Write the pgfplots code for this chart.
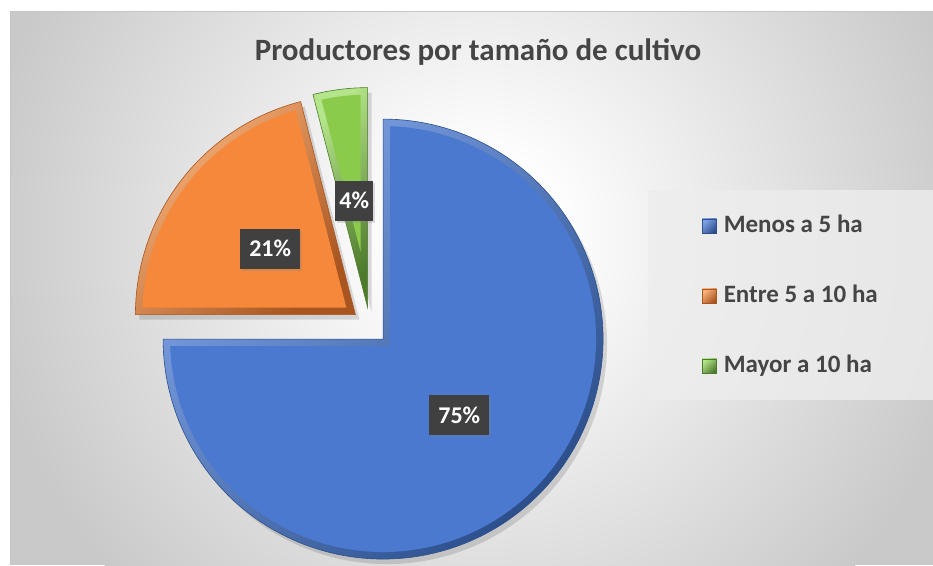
\documentclass[border=0pt]{standalone}
\usepackage{pgfplots}
\pgfplotsset{compat=1.18}
\usepackage{pgfplotstable}
\usetikzlibrary{shadows}
\usepackage{fontspec}
\setmainfont{Carlito}

\definecolor{bgout}{HTML}{C9C9C9}
\definecolor{sliceA}{HTML}{4A79CF}
\definecolor{sliceAl}{HTML}{7FA3E6}
\definecolor{sliceAd}{HTML}{2C4F8C}
\definecolor{sliceB}{HTML}{F5883A}
\definecolor{sliceBl}{HTML}{FAB37C}
\definecolor{sliceBd}{HTML}{A85520}
\definecolor{sliceC}{HTML}{8BCB4C}
\definecolor{sliceCl}{HTML}{B5E58A}
\definecolor{sliceCd}{HTML}{4E7A2C}
\definecolor{lblbox}{HTML}{404040}
\definecolor{txt}{HTML}{454545}
\definecolor{panel}{HTML}{EDEDED}

\pgfdeclareradialshading{bgshade}{\pgfpoint{0bp}{0bp}}{color(0bp)=(white); color(3.5bp)=(white); color(25bp)=(bgout); color(50bp)=(bgout)}

% shares of producers (percent)
\pgfplotstableread{
share
75
21
4
}\pietable
\pgfplotstablegetelem{0}{share}\of\pietable \let\vA\pgfplotsretval
\pgfplotstablegetelem{1}{share}\of\pietable \let\vB\pgfplotsretval
\pgfplotstablegetelem{2}{share}\of\pietable \let\vC\pgfplotsretval

% pie geometry (axis units = pt)
\def\cx{370}\def\cy{239}\def\R{220}\def\dx{18.5}\def\w{7}
\pgfmathsetmacro\Ri{\R-\w}
\pgfmathsetmacro\dd{asin(\w/\Ri)}
\pgfmathsetmacro\tot{\vA+\vB+\vC}
\pgfmathsetmacro\sA{90}
\pgfmathsetmacro\eA{\sA-360*(\vA/\tot)}
\pgfmathsetmacro\eB{\eA-360*(\vB/\tot)}
\pgfmathsetmacro\eC{\eB-360*(\vC/\tot)}
\pgfmathsetmacro\mA{(\sA+\eA)/2}
\pgfmathsetmacro\mB{(\eA+\eB)/2}
\pgfmathsetmacro\mC{(\eB+\eC)/2}
\pgfmathsetmacro\xA{\cx+\dx*cos(\mA)}\pgfmathsetmacro\yA{\cy+\dx*sin(\mA)}
\pgfmathsetmacro\xB{\cx+\dx*cos(\mB)}\pgfmathsetmacro\yB{\cy+\dx*sin(\mB)}
\pgfmathsetmacro\xC{\cx+\dx*cos(\mC)}\pgfmathsetmacro\yC{\cy+\dx*sin(\mC)}
% inner (bevel) vertices
\pgfmathsetmacro\kA{\w/sin((\sA-\eA)/2)}
\pgfmathsetmacro\kB{\w/sin((\eA-\eB)/2)}
\pgfmathsetmacro\kC{\w/sin((\eB-\eC)/2)}
\pgfmathsetmacro\ixA{\xA+\kA*cos(\mA)}\pgfmathsetmacro\iyA{\yA+\kA*sin(\mA)}
\pgfmathsetmacro\ixB{\xB+\kB*cos(\mB)}\pgfmathsetmacro\iyB{\yB+\kB*sin(\mB)}
\pgfmathsetmacro\ixC{\xC+\kC*cos(\mC)}\pgfmathsetmacro\iyC{\yC+\kC*sin(\mC)}
\pgfmathsetmacro\lxA{\xA+0.49*\R*cos(\mA)}\pgfmathsetmacro\lyA{\yA+0.49*\R*sin(\mA)}
\pgfmathsetmacro\lxB{\xB+0.49*\R*cos(\mB)}\pgfmathsetmacro\lyB{\yB+0.49*\R*sin(\mB)}
\pgfmathsetmacro\lxC{\xC+0.49*\R*cos(\mC)}\pgfmathsetmacro\lyC{\yC+0.49*\R*sin(\mC)}

\begin{document}
\begin{tikzpicture}[x=1pt,y=1pt]
\useasboundingbox (0,0) rectangle (933,565);
\fill[white] (0,0) rectangle (933,565);
\begin{scope}
\clip (10,0) rectangle (933,553);
\fill[bgout] (10,0) rectangle (933,553);
\shade[shading=bgshade] (480,330) circle (500);
\end{scope}
\draw[gray!45, line width=1pt] (10,0) -- (10,553) -- (933,553);
% legend panel
\fill[panel, opacity=0.8] (648,165) rectangle (933,375);

\begin{axis}[
  at={(0,0)}, anchor=south west,
  width=933pt, height=565pt, scale only axis,
  xmin=0, xmax=933, ymin=0, ymax=565,
  hide axis, clip=false,
  legend cell align=left,
  legend image code/.code={\draw[#1, line width=0.6pt] (0pt,-6pt) rectangle (14pt,8pt);},
  legend style={at={(0.7524,0.620)}, anchor=north west, draw=none, fill=none,
    inner sep=0pt, row sep=46pt,
    font=\fontsize{25}{30}\selectfont\bfseries, text=txt,
    nodes={inner sep=0pt, text height=18pt, text depth=6pt},
    /tikz/every odd column/.append style={column sep=7pt}},
]
% soft shadows
\addplot[fill=black, fill opacity=0.13, draw=none, domain=\eA:\sA, samples=150, variable=\t, forget plot]
  ({\xA+4+\R*cos(\t)},{\yA-5+\R*sin(\t)}) -- (axis cs:\xA+4,\yA-5) -- cycle;
\addplot[fill=black, fill opacity=0.13, draw=none, domain=\eB:\eA, samples=60, variable=\t, forget plot]
  ({\xB+4+\R*cos(\t)},{\yB-5+\R*sin(\t)}) -- (axis cs:\xB+4,\yB-5) -- cycle;
\addplot[fill=black, fill opacity=0.13, draw=none, domain=\eC:\eB, samples=20, variable=\t, forget plot]
  ({\xC+4+\R*cos(\t)},{\yC-5+\R*sin(\t)}) -- (axis cs:\xC+4,\yC-5) -- cycle;

% slices (outer bevel)
\addplot[top color=sliceAl, bottom color=sliceAd, shading angle=45, draw=sliceAd, line width=0.6pt, domain=\eA:\sA, samples=150, variable=\t]
  ({\xA+\R*cos(\t)},{\yA+\R*sin(\t)}) -- (axis cs:\xA,\yA) -- cycle;
\addlegendentry{Menos a 5 ha}
\addplot[top color=sliceBl, bottom color=sliceBd, shading angle=45, draw=sliceBd, line width=0.6pt, domain=\eB:\eA, samples=60, variable=\t]
  ({\xB+\R*cos(\t)},{\yB+\R*sin(\t)}) -- (axis cs:\xB,\yB) -- cycle;
\addlegendentry{Entre 5 a 10 ha}
\addplot[top color=sliceCl, bottom color=sliceCd, shading angle=45, draw=sliceCd, line width=0.6pt, domain=\eC:\eB, samples=20, variable=\t]
  ({\xC+\R*cos(\t)},{\yC+\R*sin(\t)}) -- (axis cs:\xC,\yC) -- cycle;
\addlegendentry{Mayor a 10 ha}

% slice faces
\addplot[fill=sliceA, draw=none, domain=\eA+\dd:\sA-\dd, samples=150, variable=\t, forget plot]
  ({\xA+\Ri*cos(\t)},{\yA+\Ri*sin(\t)}) -- (axis cs:\ixA,\iyA) -- cycle;
\addplot[fill=sliceB, draw=none, domain=\eB+\dd:\eA-\dd, samples=60, variable=\t, forget plot]
  ({\xB+\Ri*cos(\t)},{\yB+\Ri*sin(\t)}) -- (axis cs:\ixB,\iyB) -- cycle;
\addplot[fill=sliceC, draw=none, domain=\eC+\dd:\eB-\dd, samples=20, variable=\t, forget plot]
  ({\xC+\Ri*cos(\t)},{\yC+\Ri*sin(\t)}) -- (axis cs:\ixC,\iyC) -- cycle;

\node[font=\fontsize{31}{37}\selectfont\bfseries, text=txt] at (axis cs:478,513) {Productores por tamaño de cultivo};

\node[fill=lblbox, text=white, font=\fontsize{24}{28}\selectfont\bfseries, minimum height=40pt, inner xsep=9pt, drop shadow={opacity=0.25, shadow xshift=2pt, shadow yshift=-2pt}] at (axis cs:\lxA,\lyA) {\vA\%};
\node[fill=lblbox, text=white, font=\fontsize{24}{28}\selectfont\bfseries, minimum height=40pt, inner xsep=9pt, drop shadow={opacity=0.25, shadow xshift=2pt, shadow yshift=-2pt}] at (axis cs:\lxB,\lyB) {\vB\%};
\node[fill=lblbox, text=white, font=\fontsize{24}{28}\selectfont\bfseries, minimum height=40pt, inner xsep=4pt, drop shadow={opacity=0.25, shadow xshift=2pt, shadow yshift=-2pt}] at (axis cs:\lxC,\lyC) {\vC\%};
\end{axis}
\end{tikzpicture}
\end{document}
